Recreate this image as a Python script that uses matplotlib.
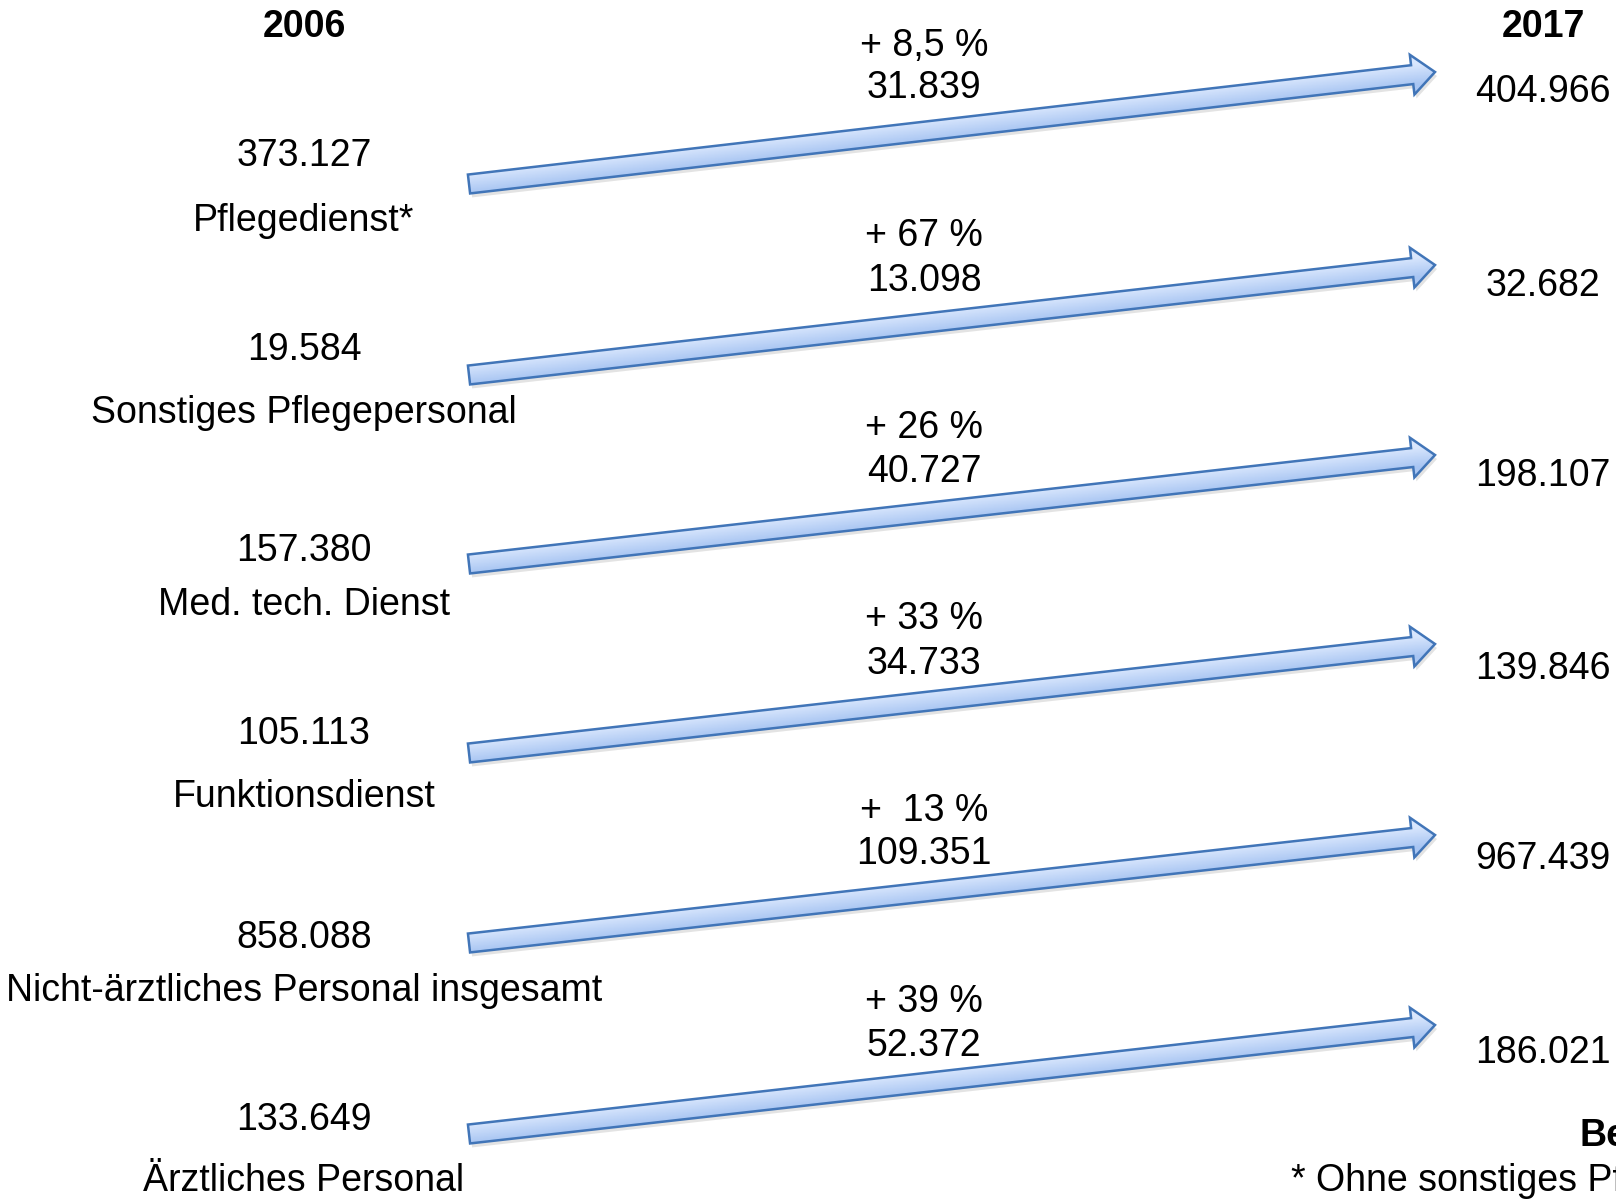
import numpy as np
import matplotlib.pyplot as plt
from matplotlib.colors import LinearSegmentedColormap
from matplotlib.patches import FancyArrow

plt.rcParams['font.family'] = ['Liberation Sans', 'DejaVu Sans']

# Data
categories = ["Pflegedienst*", "Sonstiges Pflegepersonal", "Med. tech. Dienst",
              "Funktionsdienst", "Nicht-ärztliches Personal insgesamt", "Ärztliches Personal"]
values_2006 = ["373.127", "19.584", "157.380", "105.113", "858.088", "133.649"]
values_2017 = ["404.966", "32.682", "198.107", "139.846", "967.439", "186.021"]
change_abs = ["31.839", "13.098", "40.727", "34.733", "109.351", "52.372"]
change_pct = ["+ 8,5 %", "+ 67 %", "+ 26 %", "+ 33 %", "+  13 %", "+ 39 %"]

# layout (pixel coordinates)
W, H = 1616, 1199
left_x, mid_x, right_x = 304, 924, 1543
val06_y = [156, 350, 551, 734, 938, 1120]
label_y = [221, 413, 605, 797, 991, 1181]
pct_y = [46, 236, 428, 619, 811, 1002]
abs_y = [88, 281, 472, 664, 854, 1046]
val17_y = [92, 286, 476, 669, 859, 1053]
tail_y = [184, 375, 564, 753, 943, 1134]
tip_y = [72, 265, 455, 644, 835, 1025]
tail_x, tip_x = 469, 1435

fig = plt.figure(figsize=(W / 100, H / 100), dpi=100)
ax = fig.add_axes([0, 0, 1, 1])
ax.set_xlim(0, W)
ax.set_ylim(H, 0)
ax.axis('off')

fs = 27
ax.text(left_x, 27, "2006", fontsize=fs, fontweight='bold', ha='center', va='center')
ax.text(right_x, 27, "2017", fontsize=fs, fontweight='bold', ha='center', va='center')

cmap = LinearSegmentedColormap.from_list('arrow', ['#d8e6fd', '#a8c5f2'])
arrow_kw = dict(width=19, head_width=40, head_length=23, length_includes_head=True)

for i in range(len(categories)):
    ax.text(left_x, val06_y[i], values_2006[i], fontsize=fs, ha='center', va='center')
    ax.text(left_x, label_y[i], categories[i], fontsize=fs, ha='center', va='center')
    ax.text(mid_x, pct_y[i], change_pct[i], fontsize=fs, ha='center', va='center')
    ax.text(mid_x, abs_y[i], change_abs[i], fontsize=fs, ha='center', va='center')
    ax.text(right_x, val17_y[i], values_2017[i], fontsize=fs, ha='center', va='center')

    dx = tip_x - tail_x
    dy = tip_y[i] - tail_y[i]

    # soft shadow
    shadow = FancyArrow(tail_x + 2, tail_y[i] + 4, dx, dy, fc='#b0b0b0', ec='none',
                        alpha=0.35, zorder=1, **arrow_kw)
    ax.add_patch(shadow)

    arr = FancyArrow(tail_x, tail_y[i], dx, dy, fc='#c3d7f6', ec='none', zorder=2, **arrow_kw)
    ax.add_patch(arr)

    # gradient across the shaft (perpendicular to arrow direction)
    x0, x1 = tail_x - 5, tip_x + 5
    y0, y1 = tip_y[i] - 30, tail_y[i] + 30
    gx, gy = np.meshgrid(np.linspace(x0, x1, 300), np.linspace(y0, y1, 120))
    length = np.hypot(dx, dy)
    nx, ny = -dy / length, dx / length
    d = (gx - tail_x) * nx + (gy - tail_y[i]) * ny
    g = np.clip((d + 10) / 20, 0, 1)
    im = ax.imshow(g, cmap=cmap, extent=[x0, x1, y1, y0], origin='upper',
                   aspect='auto', zorder=3, vmin=0, vmax=1)
    im.set_clip_path(arr)

    edge = FancyArrow(tail_x, tail_y[i], dx, dy, fc='none', ec='#4175b8', lw=1.8,
                      zorder=4, **arrow_kw)
    ax.add_patch(edge)

ax.set_xlim(0, W)
ax.set_ylim(H, 0)

ax.text(1580, 1136, "Bemerkung:", fontsize=fs, fontweight='bold', ha='left', va='center')
ax.text(1291, 1181, "* Ohne sonstiges Pflegepersonal", fontsize=fs, ha='left', va='center')

fig.savefig("out.png", dpi=100)
